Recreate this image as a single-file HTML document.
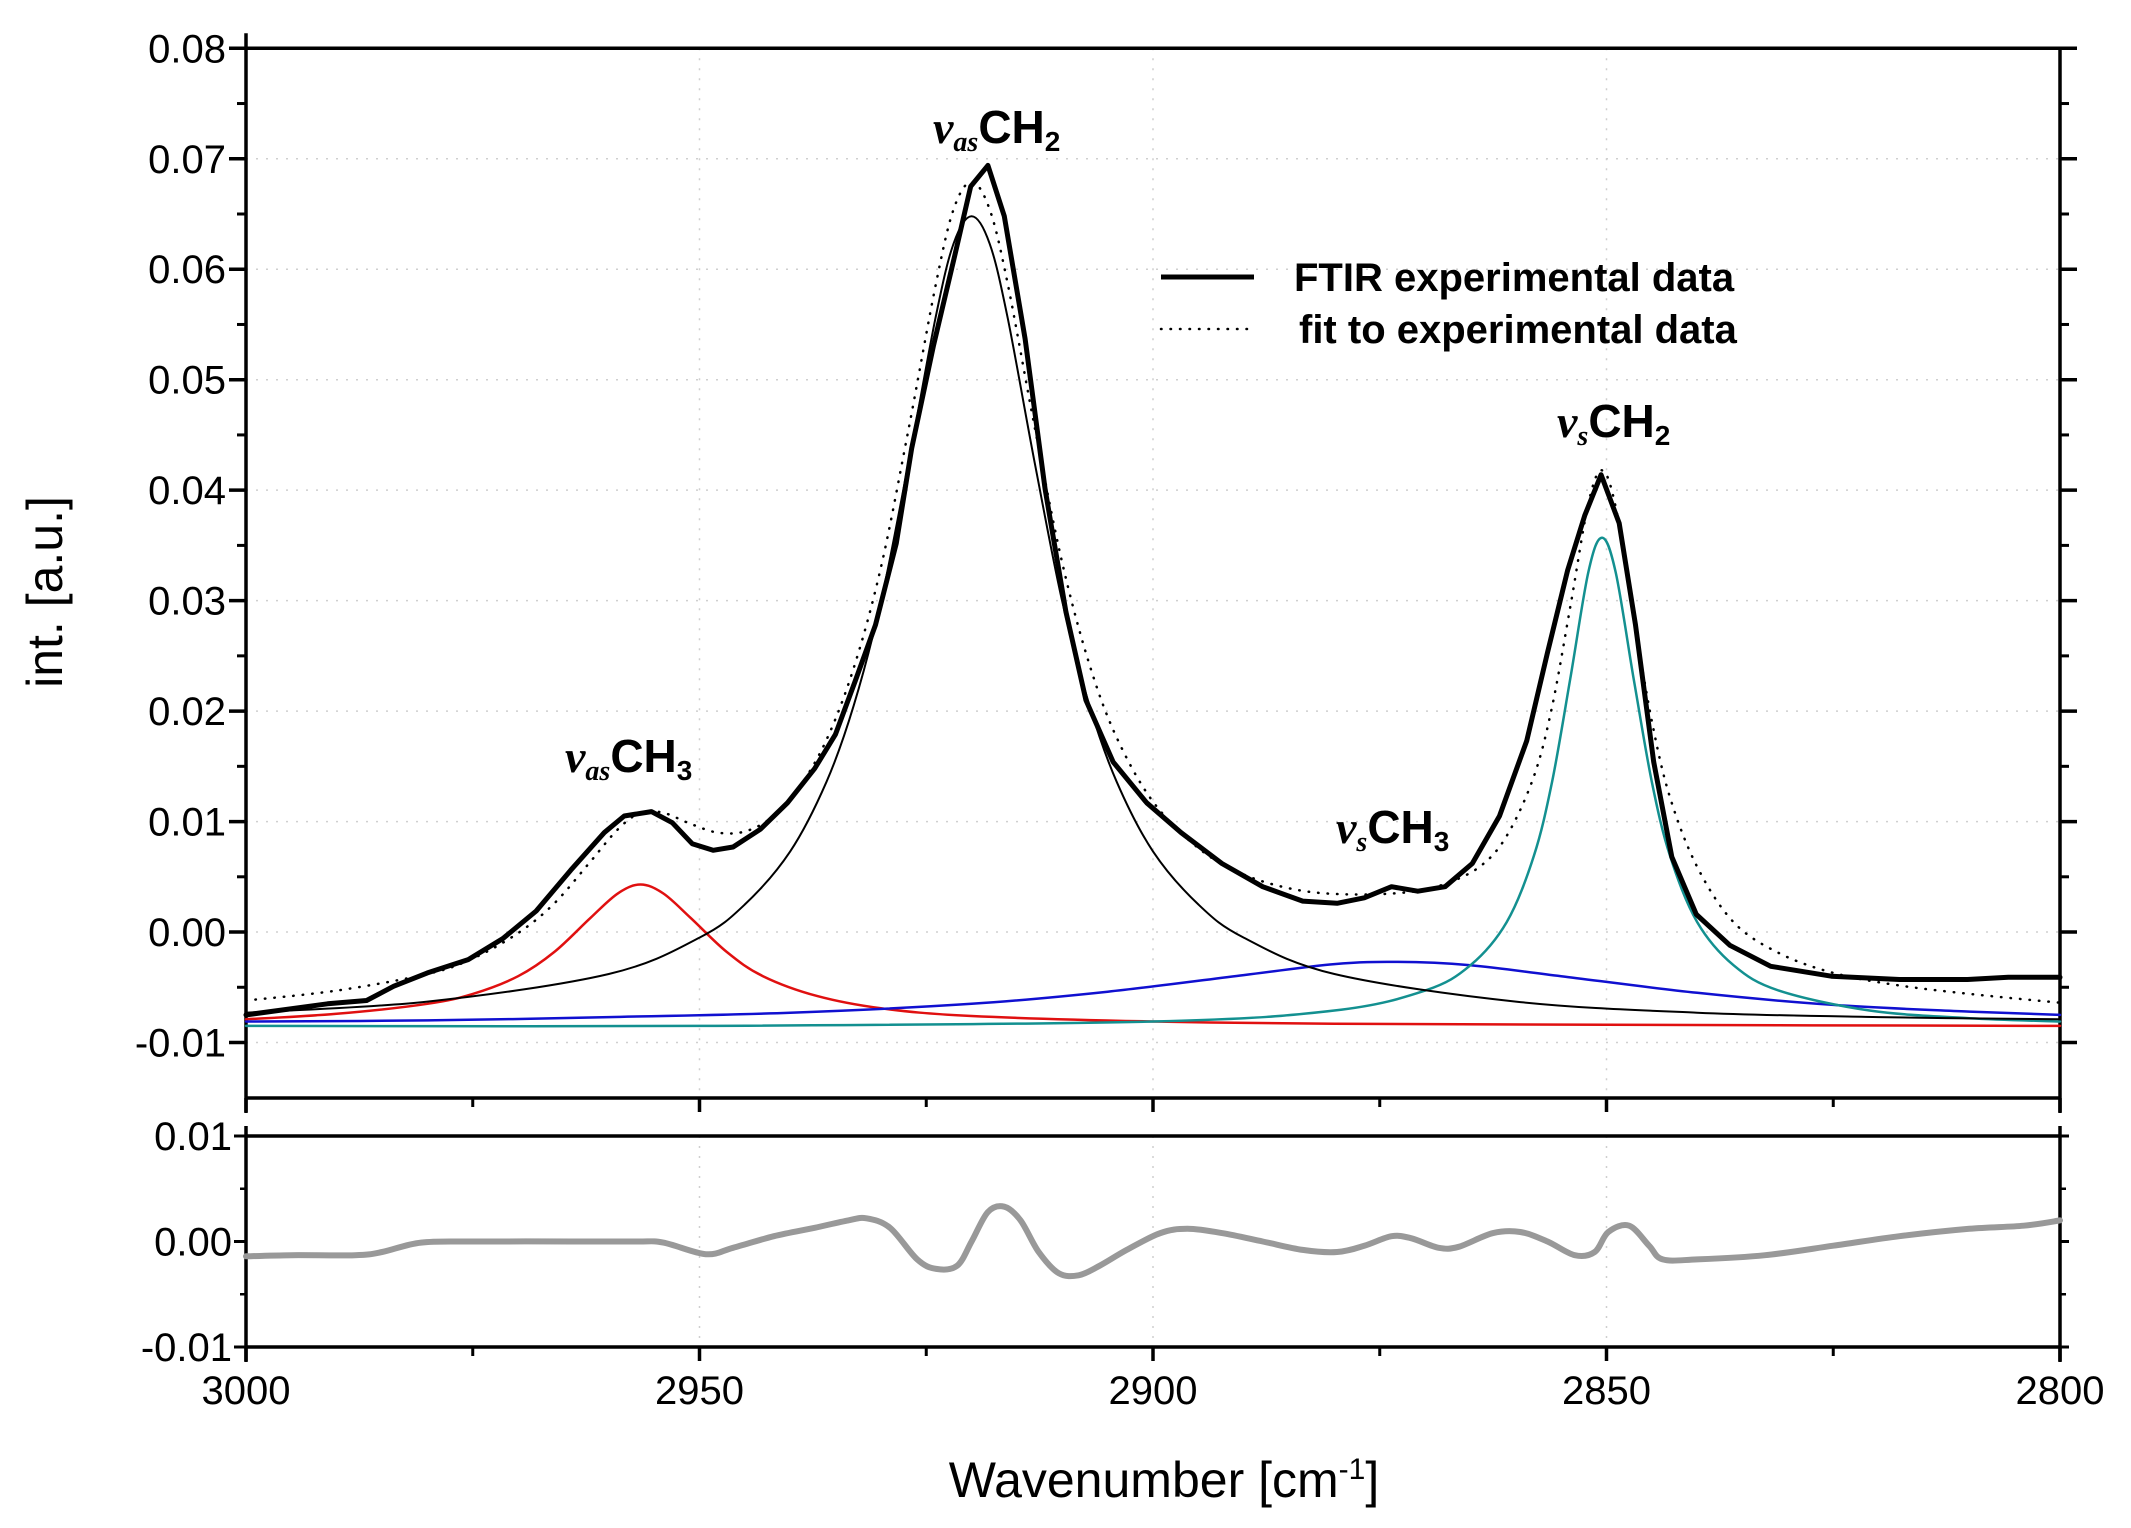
<!DOCTYPE html>
<html><head><meta charset="utf-8"><style>
html,body{margin:0;padding:0;background:#fff}
svg{display:block}
text{font-family:"Liberation Sans",Arial,sans-serif;fill:#000}
</style></head><body>
<svg id="chart" width="2131" height="1528" viewBox="0 0 2131 1528" xmlns="http://www.w3.org/2000/svg">
<g id="grid"></g>
<g id="axes"></g>
<g id="series"></g>
<text transform="translate(62,592) rotate(-90)" text-anchor="middle" font-size="50">int. [a.u.]</text>
<text x="1164" y="1497" text-anchor="middle" font-size="50">Wavenumber [cm<tspan dy="-18" font-size="30">-1</tspan><tspan dy="18">]</tspan></text>
<g>
<line x1="1161" y1="277" x2="1254" y2="277" stroke="#000" stroke-width="5"/>
<text x="1294" y="291" font-size="40" font-weight="bold">FTIR experimental data</text>
<line x1="1161" y1="329" x2="1254" y2="329" stroke="#000" stroke-width="2.5" stroke-dasharray="0.5 9" stroke-linecap="round"/>
<text x="1299" y="343" font-size="40" font-weight="bold">fit to experimental data</text>
</g>
<g font-weight="bold" font-size="46">
<text x="933" y="143"><tspan font-family="Liberation Serif" font-style="italic">v</tspan><tspan font-family="Liberation Serif" font-style="italic" font-size="28" dy="8">as</tspan><tspan dy="-8">CH</tspan><tspan font-size="28" dy="8">2</tspan></text>
<text x="1557" y="437"><tspan font-family="Liberation Serif" font-style="italic">v</tspan><tspan font-family="Liberation Serif" font-style="italic" font-size="28" dy="8">s</tspan><tspan dy="-8">CH</tspan><tspan font-size="28" dy="8">2</tspan></text>
<text x="565" y="772"><tspan font-family="Liberation Serif" font-style="italic">v</tspan><tspan font-family="Liberation Serif" font-style="italic" font-size="28" dy="8">as</tspan><tspan dy="-8">CH</tspan><tspan font-size="28" dy="8">3</tspan></text>
<text x="1336" y="843"><tspan font-family="Liberation Serif" font-style="italic">v</tspan><tspan font-family="Liberation Serif" font-style="italic" font-size="28" dy="8">s</tspan><tspan dy="-8">CH</tspan><tspan font-size="28" dy="8">3</tspan></text>
</g>
</svg>
<script>
// ---- data ----
const expWn = [3000,2991,2986.7,2983.7,2980,2975.5,2971.7,2968,2964.2,2960.5,2958.3,2955.3,2953,2950.8,2948.5,2946.3,2943.3,2940.3,2937.3,2935,2932.8,2930.6,2928.3,2926.6,2924.2,2921.9,2920.1,2918.2,2916.4,2914.1,2911.9,2909.6,2907.4,2904.4,2900.7,2896.9,2892.4,2887.9,2883.5,2879.7,2876.7,2873.7,2870.8,2867.8,2864.8,2861.8,2858.8,2856.5,2854.3,2852.4,2850.6,2848.6,2846.8,2844.8,2842.8,2840.1,2836.4,2831.9,2825.2,2817.7,2810.2,2805.7,2800];
const expVal = [-0.0075,-0.0065,-0.0062,-0.0049,-0.0037,-0.0025,-0.0006,0.0019,0.0056,0.009,0.0105,0.0109,0.0099,0.008,0.0074,0.0077,0.0093,0.0117,0.0148,0.0179,0.0228,0.0278,0.0352,0.0438,0.0531,0.0611,0.0675,0.0694,0.0648,0.0537,0.0401,0.029,0.021,0.0154,0.0117,0.009,0.0062,0.0041,0.0028,0.0026,0.0031,0.0041,0.0037,0.0041,0.0062,0.0105,0.0173,0.0253,0.0327,0.0377,0.0414,0.037,0.0278,0.0154,0.0068,0.0016,-0.0012,-0.0031,-0.004,-0.0043,-0.0043,-0.0041,-0.0041];
const fitWn = [3000,2990,2980,2975,2970,2966,2962,2959,2956.5,2954,2951,2948,2945,2942,2939,2936,2933,2930,2927,2924,2922,2920,2918,2916,2913,2910,2907,2904,2900,2895,2890,2884,2878,2872,2868,2864,2861,2858,2856,2854,2852,2850.5,2849,2847,2845,2843,2840,2836,2831,2825,2818,2810,2800];
const fitVal = [-0.0062,-0.0053,-0.0038,-0.0024,-0.0001,0.0026,0.0064,0.0093,0.0108,0.0108,0.0098,0.0090,0.0091,0.0104,0.0131,0.0174,0.0239,0.0330,0.0453,0.0584,0.0654,0.0679,0.0654,0.0586,0.0455,0.0334,0.0242,0.0176,0.0118,0.0076,0.0052,0.0038,0.0034,0.0036,0.0043,0.0059,0.0087,0.0141,0.0204,0.0294,0.0388,0.0418,0.0385,0.0285,0.0191,0.0122,0.0059,0.0009,-0.0019,-0.0037,-0.0048,-0.0056,-0.0064];
const redWn = [3000,2990,2980,2975,2970,2966,2962,2959,2956.5,2954,2951,2947,2943,2937,2930,2920,2900,2880,2850,2800];
const redVal = [-0.0079,-0.0074,-0.0065,-0.0056,-0.0040,-0.0018,0.0013,0.0035,0.0043,0.0035,0.0013,-0.0018,-0.0040,-0.0058,-0.0069,-0.0076,-0.0081,-0.0083,-0.0084,-0.0085];
const blackWn = [3000,2980,2960,2950,2945,2940,2936,2933,2930,2927,2924,2922,2920,2918,2916,2913,2910,2907,2904,2900,2895,2890,2880,2860,2840,2820,2800];
const blackVal = [-0.0073,-0.0063,-0.0038,-0.0005,0.0025,0.0073,0.0136,0.0205,0.0299,0.0423,0.0555,0.0623,0.0648,0.0623,0.0555,0.0423,0.0299,0.0205,0.0136,0.0073,0.0025,-0.0005,-0.0038,-0.0063,-0.0073,-0.0077,-0.0079];
const tealWn = [3000,2950,2900,2880,2870,2865,2861,2858,2856,2854,2852,2850.5,2849,2847,2845,2843,2840,2836,2831,2821,2810,2800];
const tealVal = [-0.0085,-0.0085,-0.0081,-0.0071,-0.0053,-0.0030,0.0009,0.0069,0.0136,0.0229,0.0326,0.0357,0.0326,0.0229,0.0136,0.0069,0.0009,-0.0030,-0.0053,-0.0071,-0.0078,-0.0081];
const blueWn = [3000,2980,2960,2940,2920,2905,2890,2880,2873,2865,2855,2840,2825,2810,2800];
const blueVal = [-0.0081,-0.0080,-0.0077,-0.0073,-0.0065,-0.0054,-0.0039,-0.0029,-0.0027,-0.0030,-0.0040,-0.0055,-0.0066,-0.0072,-0.0075];
const resWn = [3000,2995,2988,2985,2980.7,2974.7,2964,2957,2954,2949.3,2946.3,2941.8,2937.3,2933.6,2931.6,2929,2926,2923.9,2921.6,2920,2918.2,2916.4,2914.6,2912.6,2910.4,2908.2,2905.9,2902.9,2899.2,2896.2,2892.4,2887.9,2883.5,2879.7,2876.7,2873.7,2871.5,2868.5,2866.3,2862.5,2859.5,2856.5,2853.5,2851.3,2849.8,2847.5,2845.3,2843.8,2840,2832.5,2825,2817.7,2810,2804,2800];
const resVal = [-0.0014,-0.0013,-0.0013,-0.001,-0.0001,0,0,0,-0.0001,-0.0012,-0.0006,0.0005,0.0013,0.002,0.0022,0.0013,-0.0017,-0.0026,-0.0023,0,0.0028,0.0033,0.002,-0.001,-0.003,-0.0032,-0.0023,-0.0008,0.0008,0.0012,0.0008,0,-0.0008,-0.001,-0.0004,0.0005,0.0003,-0.0006,-0.0005,0.0008,0.0009,0,-0.0013,-0.001,0.0009,0.0015,-0.0004,-0.0017,-0.0017,-0.0013,-0.0004,0.0005,0.0012,0.0015,0.002];
const mainYTicks = [0.08,0.07,0.06,0.05,0.04,0.03,0.02,0.01,0.00,-0.01];
const mainYLabels = ["0.08","0.07","0.06","0.05","0.04","0.03","0.02","0.01","0.00","-0.01"];
const lowYTicks = [0.01,0.00,-0.01];
const lowYLabels = ["0.01","0.00","-0.01"];
const xTicks = [3000,2950,2900,2850,2800];
const xLabels = ["3000","2950","2900","2850","2800"];

// ---- scales ----
const L=246,R=2060,MT=48.3,MB=1098,LT=1136,LB=1347;
const X = w => L + (3000-w)*(R-L)/200;
const YM = v => MT + (0.08-v)*(1042.5-MT)/0.09;
const YL = v => (LT+LB)/2 - v*(LB-LT)/0.02;
const NS="http://www.w3.org/2000/svg";
function mk(parent,tag,attrs){const e=document.createElementNS(NS,tag);for(const k in attrs)e.setAttribute(k,attrs[k]);parent.appendChild(e);return e;}
const grid=document.getElementById('grid'),axes=document.getElementById('axes'),series=document.getElementById('series');

// grid
mainYTicks.forEach(v=>{ if(v<0.08){const g=mk(grid,'line',{x1:L,x2:R,y1:YM(v),y2:YM(v),stroke:'#cfcfcf','stroke-width':1.5,'stroke-dasharray':'2 8'});

}});
xTicks.forEach(w=>{ if(w<3000&&w>2800){[[MT,MB],[LT,LB]].forEach(p=>{const g=mk(grid,'line',{x1:X(w),x2:X(w),y1:p[0],y2:p[1],stroke:'#cfcfcf','stroke-width':1.5,'stroke-dasharray':'2 8'});

});}});

// frames
const st={stroke:'#000','stroke-width':3.5,fill:'none'};
[[L,MT-15,L,MB+15],[R,MT,R,MB+15],[L,MT,R,MT],[L,MB,R,MB],[L,LT-10,L,LB+15],[R,LT-10,R,LB+15],[L,LT,R,LT],[L,LB,R,LB]].forEach(s=>{
const e=mk(axes,'line',Object.assign({x1:s[0],y1:s[1],x2:s[2],y2:s[3]},st));

});
for(let i=0;i<mainYTicks.length;i++){const v=mainYTicks[i],y=YM(v);
mk(axes,'line',{x1:L-17,x2:L,y1:y,y2:y,stroke:'#000','stroke-width':3.5});
mk(axes,'line',{x1:R,x2:R+17,y1:y,y2:y,stroke:'#000','stroke-width':3.5});
if(i<mainYTicks.length-1){const ym=YM(v-0.005);mk(axes,'line',{x1:L-9,x2:L,y1:ym,y2:ym,stroke:'#000','stroke-width':3});mk(axes,'line',{x1:R,x2:R+9,y1:ym,y2:ym,stroke:'#000','stroke-width':3});}
const t=mk(axes,'text',{x:L-20,y:y+14,'text-anchor':'end','font-size':40});t.textContent=mainYLabels[i];

}
for(let i=0;i<lowYTicks.length;i++){const v=lowYTicks[i],y=YL(v);
mk(axes,'line',{x1:L-12,x2:L,y1:y,y2:y,stroke:'#000','stroke-width':3});
mk(axes,'line',{x1:R,x2:R+9,y1:y,y2:y,stroke:'#000','stroke-width':3});
if(i<lowYTicks.length-1){const ym=YL(v-0.005);mk(axes,'line',{x1:L-6,x2:L,y1:ym,y2:ym,stroke:'#000','stroke-width':2.5});mk(axes,'line',{x1:R,x2:R+6,y1:ym,y2:ym,stroke:'#000','stroke-width':2.5});}
const t=mk(axes,'text',{x:L-14,y:y+14,'text-anchor':'end','font-size':40});t.textContent=lowYLabels[i];

}
for(let i=0;i<xTicks.length;i++){const x=X(xTicks[i]);
[MB,LB].forEach(b=>{mk(axes,'line',{x1:x,x2:x,y1:b,y2:b+14,stroke:'#000','stroke-width':3.5});
if(i<xTicks.length-1){const xm=X(xTicks[i]-25);mk(axes,'line',{x1:xm,x2:xm,y1:b,y2:b+9,stroke:'#000','stroke-width':3});}});
const t=mk(axes,'text',{x:x,y:1404,'text-anchor':'middle','font-size':40});t.textContent=xLabels[i];

}

// series
function pts(wn,val,ys){return wn.map((w,i)=>[X(w),ys(val[i])]);}
function linear(p){return p.map((q,i)=>(i?'L':'M')+q[0].toFixed(1)+','+q[1].toFixed(1)).join('');}
function smooth(p){let d='M'+p[0][0].toFixed(1)+','+p[0][1].toFixed(1);
for(let i=0;i<p.length-1;i++){const p0=p[i-1]||p[i],p1=p[i],p2=p[i+1],p3=p[i+2]||p2;
const c1=[p1[0]+(p2[0]-p0[0])/6,p1[1]+(p2[1]-p0[1])/6],c2=[p2[0]-(p3[0]-p1[0])/6,p2[1]-(p3[1]-p1[1])/6];
d+='C'+c1.map(v=>v.toFixed(1)).join(',')+' '+c2.map(v=>v.toFixed(1)).join(',')+' '+p2[0].toFixed(1)+','+p2[1].toFixed(1);}
return d;}
function path(wn,val,ys,attrs,name,sm){const p=pts(wn,val,ys);
const e=mk(series,'path',Object.assign({d:sm?smooth(p):linear(p),fill:'none','stroke-linejoin':'round','stroke-linecap':'round'},attrs));

}
path(redWn,redVal,YM,{stroke:'#e01010','stroke-width':2.5},'component-vas-ch3',true);
path(blueWn,blueVal,YM,{stroke:'#1010d0','stroke-width':2.5},'component-vs-ch3',true);
path(tealWn,tealVal,YM,{stroke:'#139090','stroke-width':2.5},'component-vs-ch2',true);
path(blackWn,blackVal,YM,{stroke:'#000','stroke-width':2},'component-vas-ch2',true);
path(fitWn,fitVal,YM,{stroke:'#000','stroke-width':2.5,'stroke-dasharray':'0.5 9'},'fit-line',true);
path(expWn,expVal,YM,{stroke:'#000','stroke-width':5},'experimental-line',false);
path(resWn,resVal,YL,{stroke:'#999','stroke-width':6},'residual-line',true);
</script>
</body></html>
